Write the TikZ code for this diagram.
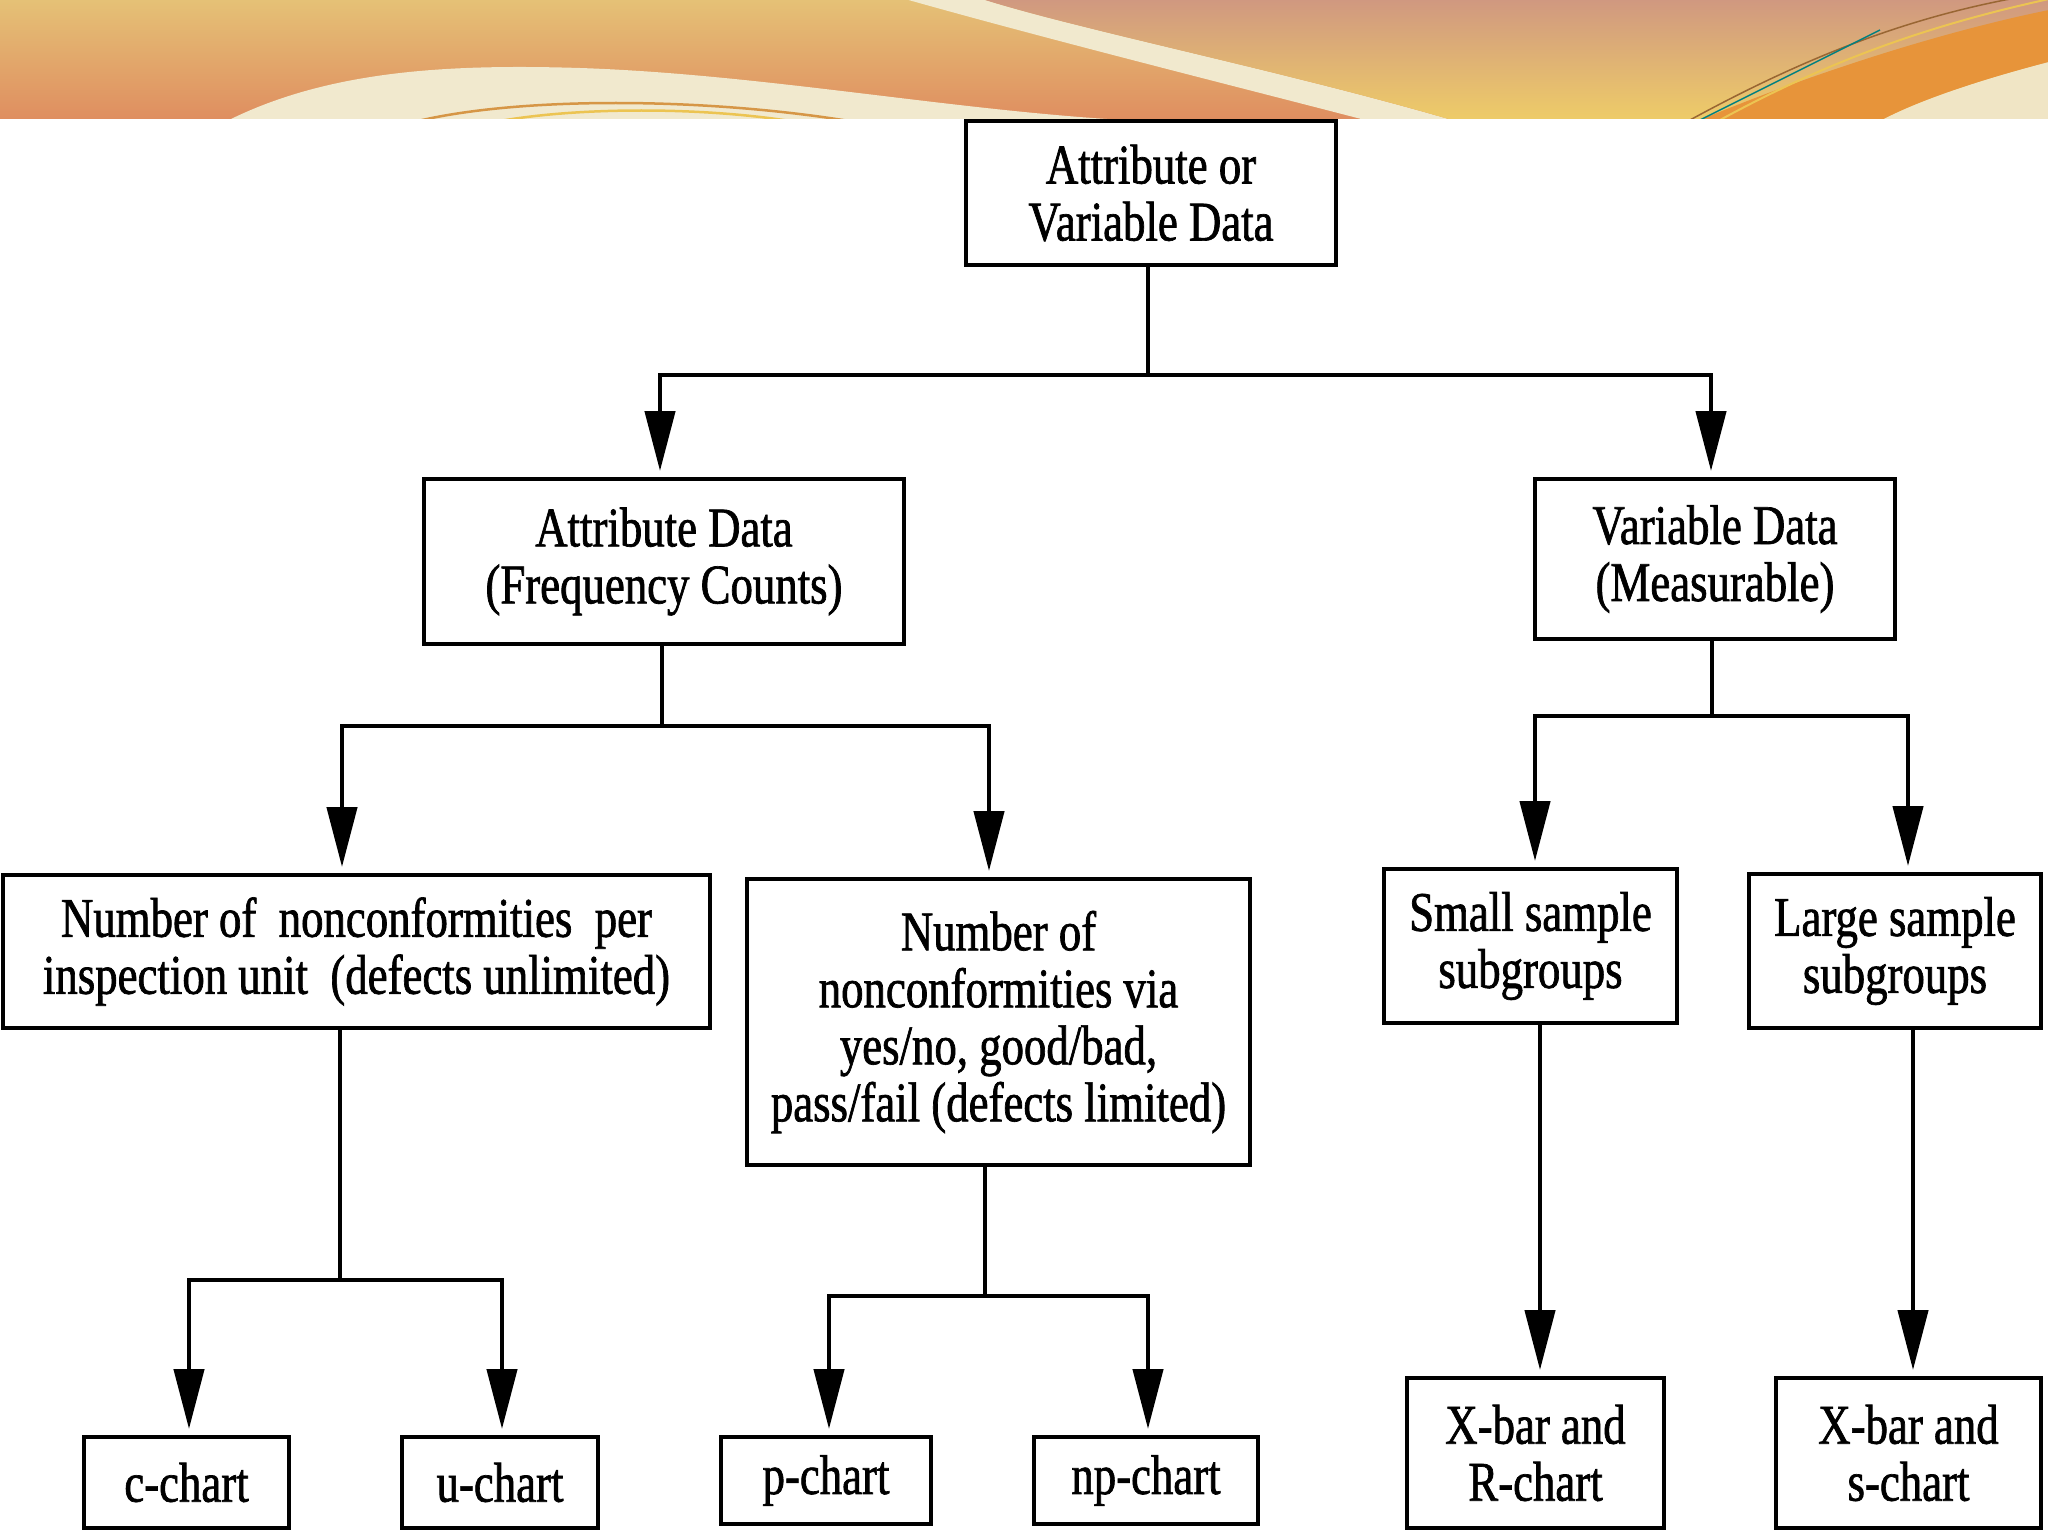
\documentclass[tikz,border=0pt]{standalone}
\usepackage{fontspec}
\setmainfont{Liberation Serif}[FakeStretch=0.8, FakeBold=1.2]
\usetikzlibrary{arrows.meta}
\definecolor{bnyel}{RGB}{229,193,118}
\definecolor{bnor}{RGB}{223,142,96}
\definecolor{bnpink}{RGB}{208,152,128}
\definecolor{bnyel2}{RGB}{238,204,104}
\definecolor{bncream}{RGB}{241,233,206}
\definecolor{bnorange}{RGB}{231,148,58}
\definecolor{bnline}{RGB}{214,150,70}
\definecolor{bnline2}{RGB}{236,196,82}
\tikzset{
  box/.style={draw=black, line width=4pt, align=center, inner sep=0pt,
    font=\fontsize{56}{57}\selectfont},
  link/.style={line width=4.5pt, line cap=rect},
  arr/.style={line width=4.5pt, -{Triangle[length=60pt 0 0, width=30pt 0 0]}, shorten >=6pt},
}
\begin{document}
\begin{tikzpicture}[x=1pt,y=-1pt]
\useasboundingbox (0,0) rectangle (2048,1536);
\fill[white] (0,0) rectangle (2048,1536);
% ---- banner ----
\begin{scope}
\clip (0,0) rectangle (2048,119);
\shade[top color=bnyel, bottom color=bnor] (0,0) rectangle (2048,119);
\fill[bncream] (229,120) .. controls (330,70) and (450,64) .. (580,68)
   .. controls (760,74) and (950,110) .. (1123,120) -- cycle;
\draw[bnline, line width=2.5pt] (418,121) .. controls (520,97) and (700,97) .. (849,121);
\draw[bnline2, line width=2.5pt] (500,121) .. controls (580,107) and (700,107) .. (790,121);
\fill[bncream] (905,-1) .. controls (1050,40) and (1250,90) .. (1365,120)
   -- (1452,120) .. controls (1280,70) and (1080,30) .. (982,-1) -- cycle;
\shade[top color=bnpink, bottom color=bnyel2] (982,-1) .. controls (1080,30) and (1280,70) .. (1452,120)
   -- (2049,120) -- (2049,-1) -- cycle;
\fill[bnorange] (1700,120) .. controls (1820,70) and (1950,30) .. (2049,10)
   -- (2049,62) .. controls (1980,80) and (1920,100) .. (1882,120) -- cycle;
\fill[bncream!90!bnyel] (1882,120) .. controls (1920,100) and (1980,80) .. (2049,62) -- (2049,120) -- cycle;
\draw[brown!80!black, line width=1.5pt] (1690,120) .. controls (1800,60) and (1900,20) .. (2010,-1);
\draw[teal, line width=1.5pt] (1700,120) .. controls (1780,80) and (1840,50) .. (1880,30);
\draw[bnline2, line width=2pt] (1720,120) .. controls (1830,60) and (1930,25) .. (2049,-1);
\end{scope}
% ---- boxes ----
\node[box, minimum width=370pt, minimum height=144pt] (top) at (1151,193) {Attribute or\\Variable Data};
\node[box, minimum width=480pt, minimum height=165pt] (attr) at (664,561.5) {Attribute Data\\(Frequency Counts)};
\node[box, minimum width=360pt, minimum height=160pt] (var) at (1715,559) {Variable Data\\(Measurable)};
\node[box, minimum width=707pt, minimum height=153pt] (per) at (356.5,951.5) {Number of\ \ nonconformities\ \ per\\inspection unit\ \ (defects unlimited)};
\node[box, minimum width=503pt, minimum height=286pt] (via) at (998.5,1022) {Number of\\nonconformities via\\yes/no, good/bad,\\pass/fail (defects limited)};
\node[box, minimum width=293pt, minimum height=154pt] (small) at (1530.5,946) {Small sample\\subgroups};
\node[box, minimum width=292pt, minimum height=154pt] (large) at (1895,951) {Large sample\\subgroups};
\node[box, minimum width=205pt, minimum height=91pt] (c) at (186.5,1482.5) {c-chart};
\node[box, minimum width=196pt, minimum height=91pt] (u) at (500,1482.5) {u-chart};
\node[box, minimum width=210pt, minimum height=87pt] (p) at (826,1480.5) {p-chart};
\node[box, minimum width=224pt, minimum height=87pt] (np) at (1146,1480.5) {np-chart};
\node[box, minimum width=257pt, minimum height=150pt] (xr) at (1535.5,1453) {X-bar and\\R-chart};
\node[box, minimum width=265pt, minimum height=150pt] (xs) at (1908.5,1453) {X-bar and\\s-chart};
% ---- junction levels ----
\coordinate (j1) at (0,375);
\coordinate (j2) at (0,726);
\coordinate (j3) at (0,716);
\coordinate (j4) at (0,1280);
\coordinate (j5) at (0,1296);
% ---- connectors ----
\draw[link] ([xshift=-3pt]top.south) -- ([xshift=-3pt]top.south |- j1);
\draw[link] ([xshift=-4pt]attr.north |- j1) -- ([xshift=-4pt]var.north |- j1);
\draw[arr] ([xshift=-4pt]attr.north |- j1) -- ([xshift=-4pt]attr.north);
\draw[arr] ([xshift=-4pt]var.north |- j1) -- ([xshift=-4pt]var.north);

\draw[link] ([xshift=-2pt]attr.south) -- ([xshift=-2pt]attr.south |- j2);
\draw[link] ([xshift=-14.5pt]per.north |- j2) -- ([xshift=-9.5pt]via.north |- j2);
\draw[arr] ([xshift=-14.5pt]per.north |- j2) -- ([xshift=-14.5pt]per.north);
\draw[arr] ([xshift=-9.5pt]via.north |- j2) -- ([xshift=-9.5pt]via.north);

\draw[link] ([xshift=-3pt]var.south) -- ([xshift=-3pt]var.south |- j3);
\draw[link] ([xshift=4.5pt]small.north |- j3) -- ([xshift=13pt]large.north |- j3);
\draw[arr] ([xshift=4.5pt]small.north |- j3) -- ([xshift=4.5pt]small.north);
\draw[arr] ([xshift=13pt]large.north |- j3) -- ([xshift=13pt]large.north);

\draw[link] ([xshift=-16.5pt]per.south) -- ([xshift=-16.5pt]per.south |- j4);
\draw[link] ([xshift=2.5pt]c.north |- j4) -- ([xshift=2pt]u.north |- j4);
\draw[arr] ([xshift=2.5pt]c.north |- j4) -- ([xshift=2.5pt]c.north);
\draw[arr] ([xshift=2pt]u.north |- j4) -- ([xshift=2pt]u.north);

\draw[link] ([xshift=-13.5pt]via.south) -- ([xshift=-13.5pt]via.south |- j5);
\draw[link] ([xshift=3pt]p.north |- j5) -- ([xshift=2pt]np.north |- j5);
\draw[arr] ([xshift=3pt]p.north |- j5) -- ([xshift=3pt]p.north);
\draw[arr] ([xshift=2pt]np.north |- j5) -- ([xshift=2pt]np.north);

\draw[arr] ([xshift=9.5pt]small.south) -- ([xshift=4.5pt]xr.north);
\draw[arr] ([xshift=18pt]large.south) -- ([xshift=4.5pt]xs.north);
\end{tikzpicture}
\end{document}
